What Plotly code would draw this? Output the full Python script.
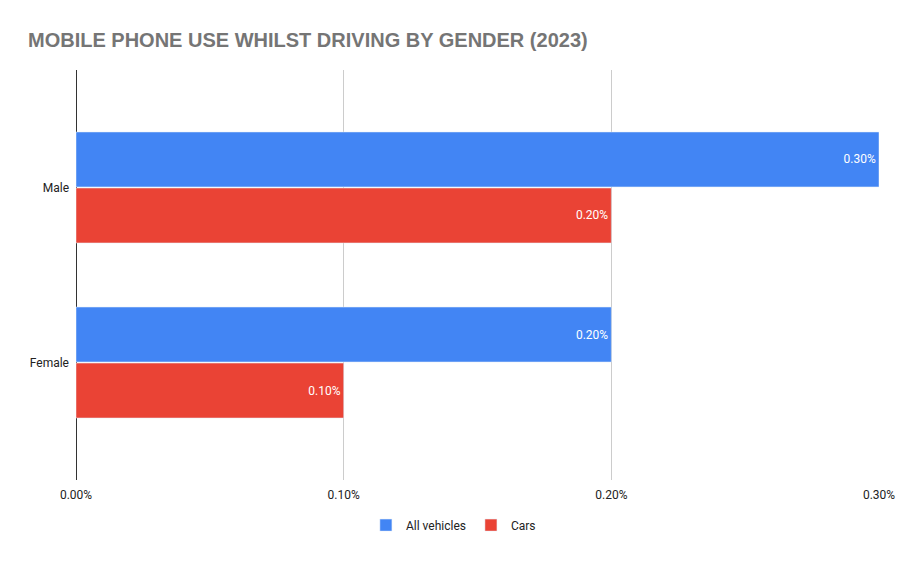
import plotly.graph_objects as go

# Données
genders = ["Male", "Female"]
all_vehicles = [0.003, 0.002]
cars = [0.002, 0.001]
tick_vals = [0, 0.001, 0.002, 0.003]
tick_text = ["0.00%", "0.10%", "0.20%", "0.30%"]

fig = go.Figure()
fig.add_trace(go.Bar(
    y=genders, x=all_vehicles, name="All vehicles", orientation="h",
    marker_color="#4285f4",
    text=[f"{v*100:.2f}%" for v in all_vehicles],
    textposition="inside", insidetextanchor="end",
    textfont=dict(color="#ffffff", size=12),
))
fig.add_trace(go.Bar(
    y=genders, x=cars, name="Cars", orientation="h",
    marker_color="#ea4335",
    text=[f"{v*100:.2f}%" for v in cars],
    textposition="inside", insidetextanchor="end",
    textfont=dict(color="#ffffff", size=12),
))

# la page ajoute une marge de 8 px autour de la figure
fig.update_layout(
    width=900, height=553,
    paper_bgcolor="#ffffff", plot_bgcolor="#ffffff",
    font=dict(family="Roboto, Arial, sans-serif", size=12, color="#222222"),
    title=dict(
        text="<b>MOBILE PHONE USE WHILST DRIVING BY GENDER (2023)</b>",
        font=dict(family="Liberation Sans, Arial, sans-serif", size=20, color="#757575"),
        x=0.0222, xanchor="left", y=0.942, yanchor="middle",
    ),
    barmode="group", bargap=0.36, bargroupgap=0.02,
    margin=dict(l=68, r=29, t=62, b=81),
    showlegend=True,
    legend=dict(
        orientation="h", x=0.47, xanchor="center", y=-0.11, yanchor="middle",
        itemwidth=30,
        font=dict(size=12, color="#222222"),
    ),
    uniformtext=dict(mode="show", minsize=12),
)
fig.update_xaxes(
    range=[0, 0.003], tickvals=tick_vals, ticktext=tick_text,
    showgrid=True, gridcolor="#cccccc", gridwidth=1,
    zeroline=True, zerolinecolor="#333333", zerolinewidth=1,
    ticks="", ticklabelstandoff=6,
)
fig.update_yaxes(
    categoryorder="array", categoryarray=genders,
    range=[1.671, -0.671], showgrid=False, zeroline=False,
    ticks="", ticklabelstandoff=6,
)

fig.write_html("out.html")
